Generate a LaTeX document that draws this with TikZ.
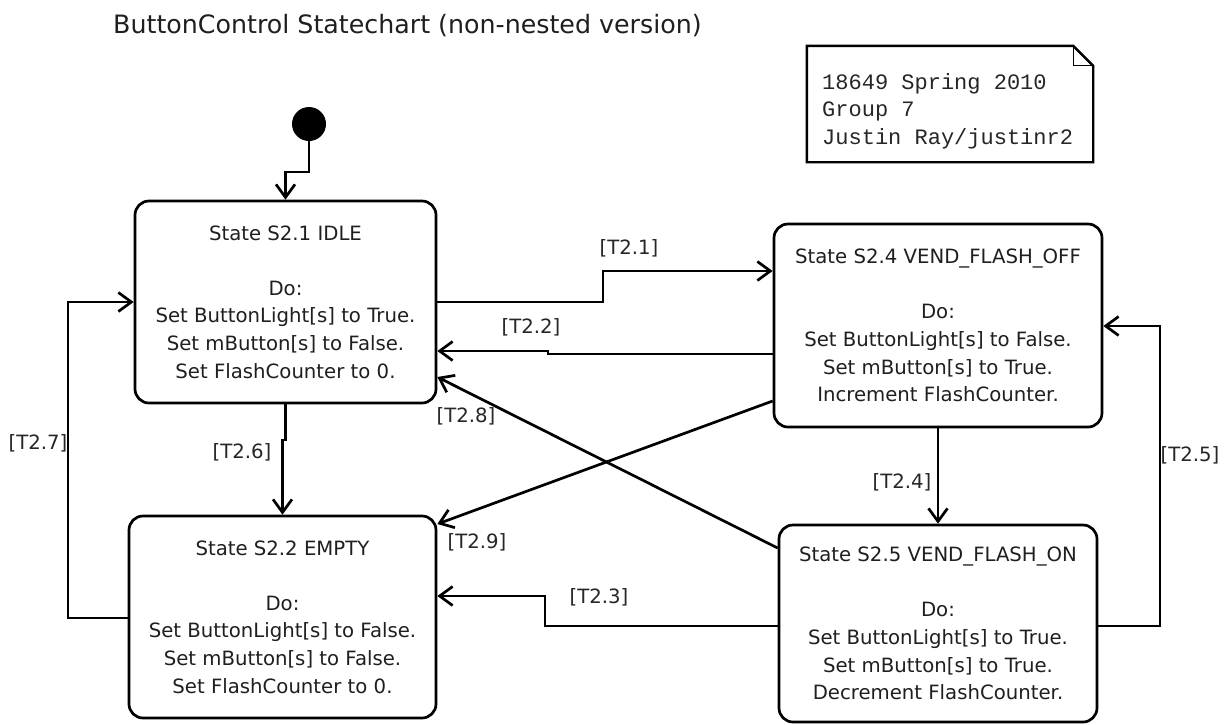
\documentclass[tikz,border=0pt]{standalone}
\usepackage{fontspec}
\setmainfont{DejaVu Sans}
\newfontfamily\notefont{Liberation Mono}
\usetikzlibrary{arrows.meta}

\tikzset{
  x=1pt, y=-1pt,
  line/.style={line width=2.7pt, black},
  arr/.style={line, -{Straight Barb[length=13pt,width=19pt,line width=2.7pt]}},
  state/.style={draw, line width=2.7pt, rounded corners=14pt, align=center,
    inner sep=0pt, font=\fontsize{19.7}{27.6}\selectfont, text=black!88},
  guard/.style={font=\fontsize{19.7}{24}\selectfont, text=black!85, inner sep=0pt},
}

\begin{document}
\begin{tikzpicture}
\useasboundingbox[fill=white] (0,0) rectangle (1224,724);

% heading
\node[anchor=base west, inner sep=0pt, font=\fontsize{25.3}{30}\selectfont, text=black!88]
  (heading) at (113,33) {ButtonControl Statechart (non-nested version)};

% note with folded corner
\node[minimum width=286pt, minimum height=116pt, inner sep=0pt] (note) at (950,104) {};
\draw[line, line width=2.4pt, line join=miter]
  (note.north west) -- ([xshift=-20pt]note.north east) -- ([yshift=-20pt]note.north east)
  -- (note.south east) -- (note.south west) -- cycle;
\draw[line, line width=1.2pt] ([xshift=-20pt]note.north east) -- ([xshift=-20pt,yshift=-20pt]note.north east)
  -- ([yshift=-20pt]note.north east);
\node[anchor=west, align=left, inner sep=0pt, font=\notefont\fontsize{22}{27.5}\selectfont, text=black!85]
  (notetext) at (822,111) {18649 Spring 2010\\Group 7\\Justin Ray/justinr2};

% initial pseudo-state
\node[circle, fill=black, minimum size=34pt, inner sep=0pt] (init) at (309,124) {};

% states
\node[state, minimum width=301pt, minimum height=202pt] (idle) at (285.5,302)
  {State S2.1 IDLE\\~\\Do:\\Set ButtonLight[s] to True.\\Set mButton[s] to False.\\Set FlashCounter to 0.};
\node[state, minimum width=328pt, minimum height=203pt] (vfo) at (938,325.5)
  {State S2.4 VEND\_FLASH\_OFF\\~\\Do:\\Set ButtonLight[s] to False.\\Set mButton[s] to True.\\Increment FlashCounter.};
\node[state, minimum width=307pt, minimum height=202pt] (empty) at (282.5,617)
  {State S2.2 EMPTY\\~\\Do:\\Set ButtonLight[s] to False.\\Set mButton[s] to False.\\Set FlashCounter to 0.};
\node[state, minimum width=318pt, minimum height=197pt] (vfon) at (938,623.5)
  {State S2.5 VEND\_FLASH\_ON\\~\\Do:\\Set ButtonLight[s] to True.\\Set mButton[s] to True.\\Decrement FlashCounter.};

% transitions
\draw[arr] (init) -- (init |- 0,172) -- (idle.north |- 0,172) -- (idle.north);
\draw[arr] (idle.east) -- (603,302) -- (603,271) -- (vfo.west |- 0,271);
\draw[arr] (vfo.west |- 0,354) -- (548,354) -- (548,351) -- (idle.east |- 0,351);
\draw[arr] (vfon.west |- 0,626) -- (545,626) -- (545,596) -- (empty.east |- 0,596);
\draw[arr] (vfo.south) -- (vfon.north);
\draw[arr] (vfon.east |- 0,626) -- (1160,626) -- (1160,326) -- (vfo.east |- 0,326);
\draw[arr] (idle.south) -- (idle.south |- 0,440) -- (empty.north |- 0,440) -- (empty.north);
\draw[arr] (empty.west |- 0,618) -- (68,618) -- (68,302) -- (idle.west);
\draw[arr] (vfon.west |- 0,548) -- (idle.east |- 0,377);
\draw[arr] (vfo.west |- 0,401) -- (empty.east |- 0,524);

% guards
\node[guard] (g1) at (629,248) {[T2.1]};
\node[guard] (g2) at (531,327) {[T2.2]};
\node[guard] (g3) at (599,597) {[T2.3]};
\node[guard] (g4) at (902,482) {[T2.4]};
\node[guard] (g5) at (1190,455) {[T2.5]};
\node[guard] (g6) at (242,452) {[T2.6]};
\node[guard] (g7) at (38,443) {[T2.7]};
\node[guard] (g8) at (466,416) {[T2.8]};
\node[guard] (g9) at (477,542) {[T2.9]};
\end{tikzpicture}
\end{document}
